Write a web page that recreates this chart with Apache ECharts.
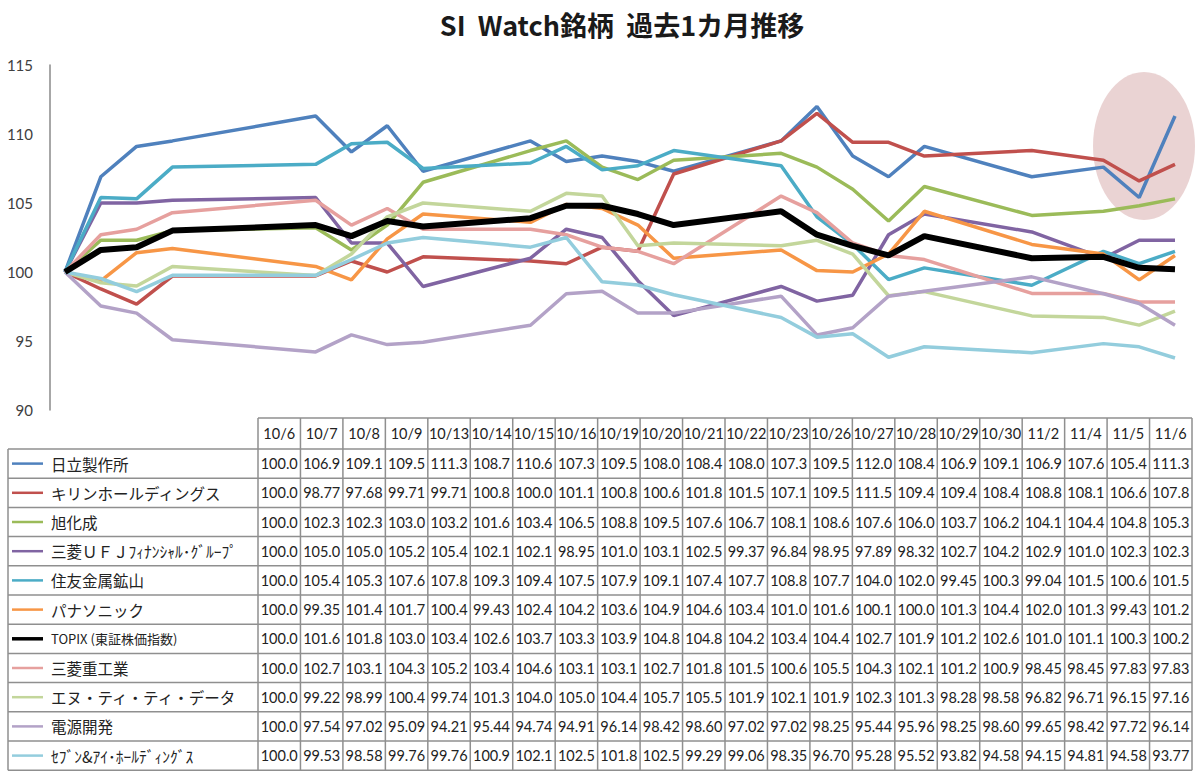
<!DOCTYPE html>
<html>
<head>
<meta charset="utf-8">
<script src="https://cdn.jsdelivr.net/npm/echarts@6/dist/echarts.min.js"></script>
<style>
  html, body { margin: 0; padding: 0; background: #fff; }
  #main { width: 1200px; height: 780px; }
</style>
</head>
<body>
<div id="main"></div>
<script>
// 日付（2009年）
var dates = ['10/6','10/7','10/8','10/9','10/13','10/14','10/15','10/16','10/19','10/20','10/21',
             '10/22','10/23','10/26','10/27','10/28','10/29','10/30','11/2','11/4','11/5','11/6'];

var names = ['日立製作所','キリンホールディングス','旭化成','三菱ＵＦＪﾌｨﾅﾝｼｬﾙ･ｸﾞﾙｰﾌﾟ','住友金属鉱山',
             'パナソニック','TOPIX (東証株価指数)','三菱重工業','エヌ・ティ・ティ・データ','電源開発','ｾﾌﾞﾝ&ｱｲ･ﾎｰﾙﾃﾞｨﾝｸﾞｽ'];

var hitachi = [100.0,106.9,109.1,109.5,111.3,108.7,110.6,107.3,109.5,108.0,108.4,108.0,107.3,109.5,112.0,108.4,106.9,109.1,106.9,107.6,105.4,111.3];
var kirin   = [100.0,98.77,97.68,99.71,99.71,100.8,100.0,101.1,100.8,100.6,101.8,101.5,107.1,109.5,111.5,109.4,109.4,108.4,108.8,108.1,106.6,107.8];
var asahi   = [100.0,102.3,102.3,103.0,103.2,101.6,103.4,106.5,108.8,109.5,107.6,106.7,108.1,108.6,107.6,106.0,103.7,106.2,104.1,104.4,104.8,105.3];
var mufg    = [100.0,105.0,105.0,105.2,105.4,102.1,102.1,98.95,101.0,103.1,102.5,99.37,96.84,98.95,97.89,98.32,102.7,104.2,102.9,101.0,102.3,102.3];
var smm     = [100.0,105.4,105.3,107.6,107.8,109.3,109.4,107.5,107.9,109.1,107.4,107.7,108.8,107.7,104.0,102.0,99.45,100.3,99.04,101.5,100.6,101.5];
var pana    = [100.0,99.35,101.4,101.7,100.4,99.43,102.4,104.2,103.6,104.9,104.6,103.4,101.0,101.6,100.1,100.0,101.3,104.4,102.0,101.3,99.43,101.2];
var topix   = [100.0,101.6,101.8,103.0,103.4,102.6,103.7,103.3,103.9,104.8,104.8,104.2,103.4,104.4,102.7,101.9,101.2,102.6,101.0,101.1,100.3,100.2];
var mhi     = [100.0,102.7,103.1,104.3,105.2,103.4,104.6,103.1,103.1,102.7,101.8,101.5,100.6,105.5,104.3,102.1,101.2,100.9,98.45,98.45,97.83,97.83];
var nttd    = [100.0,99.22,98.99,100.4,99.74,101.3,104.0,105.0,104.4,105.7,105.5,101.9,102.1,101.9,102.3,101.3,98.28,98.58,96.82,96.71,96.15,97.16];
var jpower  = [100.0,97.54,97.02,95.09,94.21,95.44,94.74,94.91,96.14,98.42,98.60,97.02,97.02,98.25,95.44,95.96,98.25,98.60,99.65,98.42,97.72,96.14];
var seven   = [100.0,99.53,98.58,99.76,99.76,100.9,102.1,102.5,101.8,102.5,99.29,99.06,98.35,96.70,95.28,95.52,93.82,94.58,94.15,94.81,94.58,93.77];

var allData = [hitachi, kirin, asahi, mufg, smm, pana, topix, mhi, nttd, jpower, seven];
var colors = ['#4F81BD','#C0504D','#9BBB59','#8064A2','#4BACC6','#F79646','#000000',
              '#E6A09E','#C3D69B','#B3A2C7','#93CDDD'];
var yTicks = [90, 95, 100, 105, 110, 115];

function toTime(d) {
    var p = d.split('/');
    return new Date(2009, +p[0] - 1, +p[1]).getTime();
}

var series = allData.map(function (arr, i) {
    return {
        name: names[i],
        type: 'line',
        data: arr.map(function (v, j) { return [toTime(dates[j]), v]; }),
        showSymbol: false,
        lineStyle: { color: colors[i], width: i === 6 ? 6 : 3.5 },
        itemStyle: { color: colors[i] },
        z: i === 6 ? 3 : 2
    };
});

// データテーブル
var tblLeft = 8, colLeft = 258, tblRight = 1192;
var headTop = 418, rowTop = 449, rowH = 29.2;
var colW = (tblRight - colLeft) / dates.length;
var lineCol = '#8f8f8f';
var graphics = [];

// 強調の楕円
graphics.push({
    type: 'ellipse', z: 0,
    shape: { cx: 1144, cy: 146, rx: 51, ry: 74 },
    style: { fill: 'rgba(200,140,140,0.38)' }
});

function hline(x1, x2, y) {
    graphics.push({ type: 'line', shape: { x1: x1, y1: y, x2: x2, y2: y }, style: { stroke: lineCol, lineWidth: 1.5 } });
}
function vline(x, y1, y2) {
    graphics.push({ type: 'line', shape: { x1: x, y1: y1, x2: x, y2: y2 }, style: { stroke: lineCol, lineWidth: 1.5 } });
}

var tblBottom = rowTop + rowH * names.length;
hline(colLeft, tblRight, headTop);
for (var k = 0; k <= names.length; k++) hline(tblLeft, tblRight, rowTop + k * rowH);
vline(tblLeft, rowTop, tblBottom);
for (var c = 0; c <= dates.length; c++) vline(colLeft + c * colW, headTop, tblBottom);

dates.forEach(function (d, c) {
    graphics.push({
        type: 'text',
        style: { text: d, x: colLeft + (c + 0.5) * colW, y: (headTop + rowTop) / 2,
                 textAlign: 'center', textVerticalAlign: 'middle',
                 font: '14.5px Lato, "Noto Sans CJK JP"', fill: '#222' }
    });
});

names.forEach(function (n, r) {
    var cy = rowTop + (r + 0.5) * rowH;
    graphics.push({ type: 'line', shape: { x1: 12, y1: cy, x2: 43, y2: cy },
                    style: { stroke: colors[r], lineWidth: r === 6 ? 3.5 : 2.5 } });
    graphics.push({
        type: 'text',
        style: { text: n, x: 51, y: cy, textAlign: 'left', textVerticalAlign: 'middle',
                 font: (r === 6 ? '13px' : '15.5px') + ' "Noto Sans CJK JP"', fill: '#222' }
    });
    allData[r].forEach(function (v, c) {
        graphics.push({
            type: 'text',
            style: { text: v.toPrecision(4), x: colLeft + (c + 0.5) * colW, y: cy,
                     textAlign: 'center', textVerticalAlign: 'middle',
                     font: '14.5px Lato', fill: '#222' }
        });
    });
});

var chart = echarts.init(document.getElementById('main'), null, { renderer: 'svg' });
var option = {
    backgroundColor: '#fff',
    animation: false,
    title: {
        text: 'SI  Watch銘柄  過去1カ月推移',
        left: 617, top: 6, textAlign: 'center',
        textStyle: { fontSize: 27, fontWeight: 'bold', color: '#1a1a1a', fontFamily: '"Noto Sans CJK JP"' }
    },
    grid: { left: 65, right: 25, top: 65, bottom: 370 },
    xAxis: {
        type: 'time',
        min: toTime(dates[0]),
        max: toTime(dates[dates.length - 1]),
        axisLine: { show: false },
        axisTick: { show: false },
        axisLabel: { show: false },
        splitLine: { show: false }
    },
    yAxis: {
        type: 'value',
        min: yTicks[0], max: yTicks[yTicks.length - 1], interval: 5,
        offset: 15,
        axisLine: { show: true, lineStyle: { color: '#8a8a8a', width: 1.5 } },
        axisTick: { show: false },
        axisLabel: { margin: 17, fontSize: 15, color: '#404040', fontFamily: 'Lato' },
        splitLine: { show: false }
    },
    graphic: graphics,
    series: series
};
chart.setOption(option);
</script>
</body>
</html>
